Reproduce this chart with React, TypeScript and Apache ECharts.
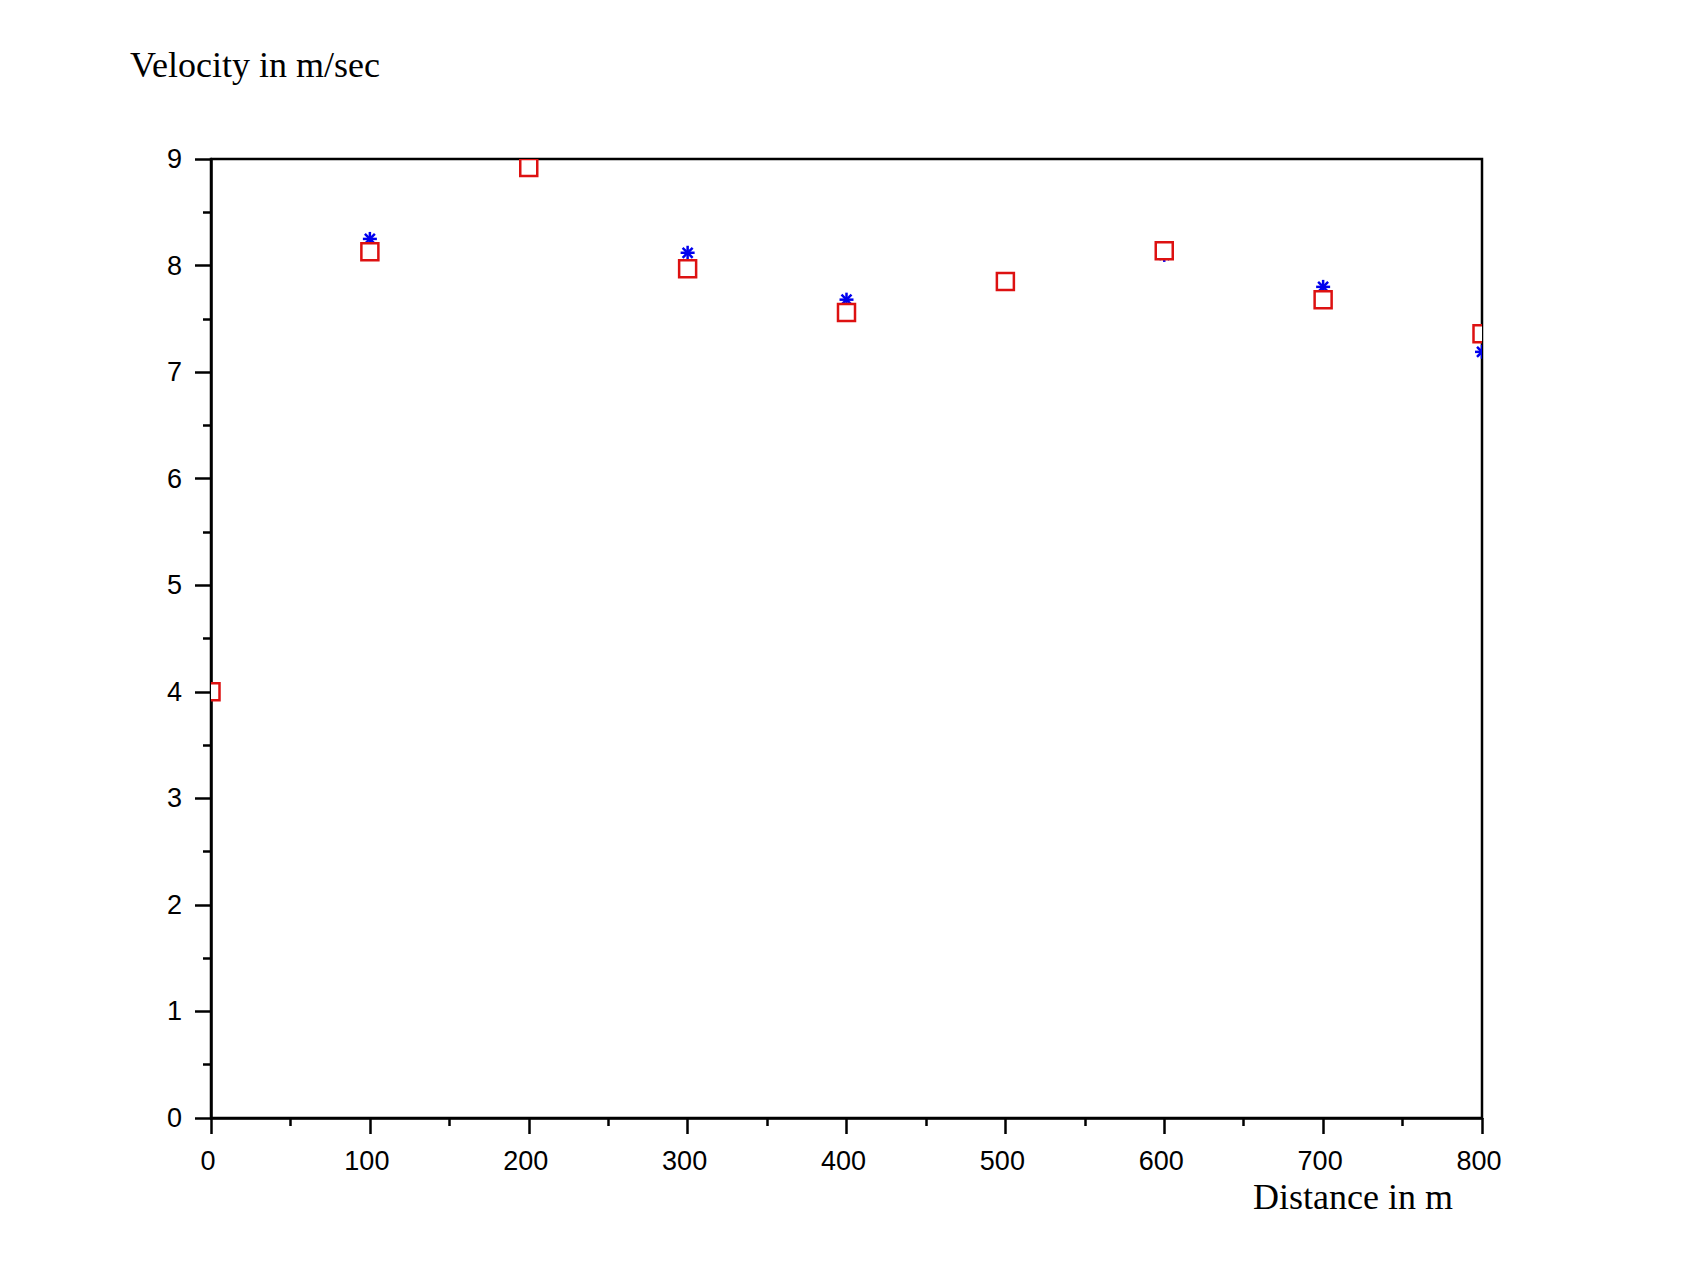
import React, { useEffect, useRef } from "react";
import * as echarts from "echarts";

const distances = [0, 100, 200, 300, 400, 500, 600, 700, 800];
const squareValues = [4.0, 8.13, 8.92, 7.97, 7.56, 7.85, 8.14, 7.68, 7.36];
const starValues = [4.0, 8.25, 8.9, 8.12, 7.68, 7.85, 8.1, 7.8, 7.19];
const yTitle = "Velocity in m/sec";
const xTitle = "Distance in m";

const W = 1695;
const H = 1278;
const GL = 211, GT = 159, GR = 1482, GB = 1118;

const RED = "#dd1111";
const BLUE = "#0000ee";

export default function App() {
  const ref = useRef<HTMLDivElement>(null);
  useEffect(() => {
    document.body.style.margin = "0";
    if (!ref.current) return;
    const chart = echarts.init(ref.current, null, { renderer: "svg" });
    const axisCommon = {
      axisLine: { show: true, onZero: false, lineStyle: { color: "#000", width: 2.5 } },
      axisTick: { show: true, inside: false, length: 16, lineStyle: { color: "#000", width: 2.5 } },
      minorTick: { show: true, splitNumber: 2, length: 8, lineStyle: { color: "#000", width: 2.5 } },
      splitLine: { show: false },
      minorSplitLine: { show: false },
    };
    const labelFont = "Liberation Sans, Arial, sans-serif";
    chart.setOption({
      animation: false,
      backgroundColor: "#fff",
      grid: {
        left: GL,
        top: GT,
        width: GR - GL,
        height: GB - GT,
        show: true,
        borderColor: "#000",
        borderWidth: 2.5,
        containLabel: false,
      },
      xAxis: {
        type: "value",
        min: 0,
        max: 800,
        interval: 100,
        ...axisCommon,
        axisLabel: {
          color: "#000",
          fontFamily: labelFont,
          fontSize: 27,
          margin: 29,
          padding: [0, 6, 0, 0],
        },
      },
      yAxis: {
        type: "value",
        min: 0,
        max: 9,
        interval: 1,
        ...axisCommon,
        axisLabel: {
          color: "#000",
          fontFamily: labelFont,
          fontSize: 27,
          margin: 29,
        },
      },
      graphic: [
        {
          type: "text",
          left: 130,
          top: 47,
          style: {
            text: yTitle,
            fill: "#000",
            font: "36px 'Liberation Serif', 'Times New Roman', serif",
          },
        },
        {
          type: "text",
          left: 1253,
          top: 1179,
          style: {
            text: xTitle,
            fill: "#000",
            font: "36px 'Liberation Serif', 'Times New Roman', serif",
          },
        },
      ],
      series: [
        {
          type: "custom",
          name: "stars",
          clip: true,
          data: distances.map((d, i) => [d, starValues[i]]),
          encode: { x: 0, y: 1 },
          z: 2,
          renderItem: (params: any, api: any) => {
            const p = api.coord([api.value(0), api.value(1)]);
            const rx = 7, ry = 7, d = 5;
            const st = { stroke: BLUE, lineWidth: 2.5 };
            return {
              type: "group",
              children: [
                { type: "line", shape: { x1: p[0] - rx, y1: p[1], x2: p[0] + rx, y2: p[1] }, style: st },
                { type: "line", shape: { x1: p[0], y1: p[1] - ry, x2: p[0], y2: p[1] + ry }, style: st },
                { type: "line", shape: { x1: p[0] - d, y1: p[1] - d, x2: p[0] + d, y2: p[1] + d }, style: st },
                { type: "line", shape: { x1: p[0] - d, y1: p[1] + d, x2: p[0] + d, y2: p[1] - d }, style: st },
              ],
            };
          },
        },
        {
          type: "custom",
          name: "squares",
          clip: true,
          data: distances.map((d, i) => [d, squareValues[i]]),
          encode: { x: 0, y: 1 },
          z: 3,
          renderItem: (params: any, api: any) => {
            const p = api.coord([api.value(0), api.value(1)]);
            const s = 17;
            return {
              type: "rect",
              shape: { x: p[0] - s / 2, y: p[1] - s / 2, width: s, height: s },
              style: { fill: "#fff", stroke: RED, lineWidth: 2.5 },
            };
          },
        },
      ],
    });
    return () => chart.dispose();
  }, []);
  return <div ref={ref} style={{ width: W, height: H }} />;
}
